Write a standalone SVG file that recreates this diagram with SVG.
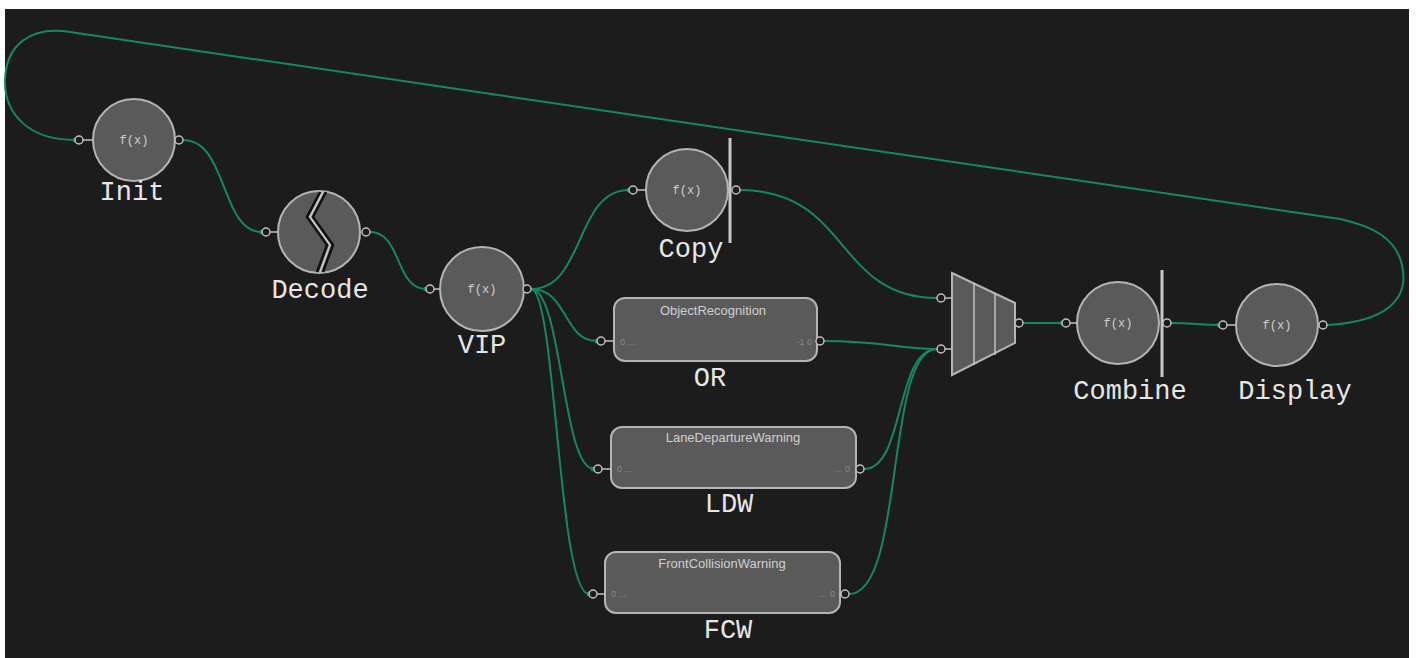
<svg xmlns="http://www.w3.org/2000/svg" width="1416" height="658" viewBox="0 0 1416 658">
<style>
.node{fill:#5a5a5a;stroke:#b4b4b4;stroke-width:2}
.port{fill:#1c1c1c;stroke:#c0c0c0;stroke-width:1.5}
.stub{stroke:#c0c0c0;stroke-width:1.5}
.bar{stroke:#c8c8c8;stroke-width:3}
.wire{fill:none;stroke:#17875e;stroke-width:2}
.lbl{font-family:"Liberation Mono","DejaVu Sans Mono",monospace;font-size:27px;fill:#e6e6e6;text-anchor:middle}
.fx{font-family:"Liberation Mono","DejaVu Sans Mono",monospace;font-size:12px;fill:#d0d0d0;text-anchor:middle}
.ttl{font-family:"Liberation Sans","DejaVu Sans",sans-serif;font-size:13px;fill:#cfcfcf;text-anchor:middle}
.pl{font-family:"Liberation Sans","DejaVu Sans",sans-serif;font-size:9px;fill:#8a8a8a}
.dot{fill:#17875e}
</style>
<rect x="0" y="0" width="1416" height="658" fill="#ffffff"/>
<rect x="5" y="9" width="1404" height="649" fill="#1c1c1c"/>

<g id="connectors">
<path class="wire" d="M1327,325 C1385,322 1410,300 1402,265 C1396,238 1372,226 1340,219 L70,32 C30,26 6,45 5,80 C4,115 30,140 75,140"/>
<path class="wire" d="M183,140 C228,140 220,232 262,232"/>
<path class="wire" d="M370,232 C402,232 395,289 426,289"/>
<path class="wire" d="M531,289 C585,289 575,190 629,190"/>
<path class="wire" d="M531,289 C568,289 563,341 597,341"/>
<path class="wire" d="M531,289 C562,289 562,469 594,469"/>
<path class="wire" d="M531,289 C556,289 558,594 589,594"/>
<path class="wire" d="M740,190 C850,190 835,298 937,298"/>
<path class="wire" d="M824,341 C885,341 895,349 937,349"/>
<path class="wire" d="M864,469 C905,469 895,349 937,349"/>
<path class="wire" d="M849,594 C905,594 885,349 937,349"/>
<path class="wire" d="M1023,323 L1062,323"/>
<path class="wire" d="M1171,323 C1195,323 1198,325 1220,325"/>
</g>

<g id="init">
<circle class="node" cx="134" cy="140" r="41"/>
<line class="stub" x1="83" y1="140" x2="93" y2="140"/>
<circle class="dot" cx="75" cy="140" r="2.5"/>
<circle class="port" cx="79" cy="140" r="4"/>
<circle class="port" cx="179" cy="140" r="4"/>
<text class="fx" x="134" y="144">f(x)</text>
<text class="lbl" x="132" y="200">Init</text>
</g>

<g id="decode">
<circle class="node" cx="319" cy="232" r="41"/>
<path d="M320,192 L307,217 L327,245 L317,272" fill="none" stroke="#111" stroke-width="2.5"/>
<path d="M326,192 L313,217 L333,245 L323,272" fill="none" stroke="#111" stroke-width="2.5"/>
<path d="M323,192 L310,217 L330,245 L320,272" fill="none" stroke="#c8c8c8" stroke-width="2"/>
<line class="stub" x1="270" y1="232" x2="278" y2="232"/>
<circle class="dot" cx="262" cy="232" r="2.5"/>
<circle class="port" cx="266" cy="232" r="4"/>
<circle class="port" cx="366" cy="232" r="4"/>
<text class="lbl" x="320" y="298">Decode</text>
</g>

<g id="vip">
<circle class="node" cx="482" cy="289" r="42"/>
<line class="stub" x1="434" y1="289" x2="440" y2="289"/>
<circle class="dot" cx="426" cy="289" r="2.5"/>
<circle class="port" cx="430" cy="289" r="4"/>
<circle class="port" cx="527" cy="289" r="4"/>
<text class="fx" x="482" y="293">f(x)</text>
<text class="lbl" x="482" y="353">VIP</text>
</g>

<g id="copy">
<circle class="node" cx="687" cy="190" r="41"/>
<line class="bar" x1="730" y1="138" x2="730" y2="243"/>
<line class="stub" x1="637" y1="190" x2="646" y2="190"/>
<circle class="dot" cx="629" cy="190" r="2.5"/>
<circle class="port" cx="633" cy="190" r="4"/>
<circle class="port" cx="736" cy="190" r="4"/>
<text class="fx" x="687" y="194">f(x)</text>
<text class="lbl" x="691" y="257">Copy</text>
</g>

<g id="or">
<rect class="node" x="614" y="298" width="203" height="63" rx="11"/>
<text class="ttl" x="713" y="315">ObjectRecognition</text>
<text class="pl" x="620" y="345">0 ...</text>
<text class="pl" x="812" y="345" text-anchor="end">-1 0</text>
<line class="stub" x1="605" y1="341" x2="614" y2="341"/>
<circle class="dot" cx="597" cy="341" r="2.5"/>
<circle class="port" cx="601" cy="341" r="4"/>
<circle class="port" cx="820" cy="341" r="4"/>
<text class="lbl" x="710" y="386">OR</text>
</g>

<g id="ldw">
<rect class="node" x="611" y="427" width="245" height="61" rx="11"/>
<text class="ttl" x="733" y="442">LaneDepartureWarning</text>
<text class="pl" x="617" y="472">0 ...</text>
<text class="pl" x="850" y="472" text-anchor="end">... 0</text>
<line class="stub" x1="602" y1="469" x2="611" y2="469"/>
<circle class="dot" cx="593" cy="469" r="2.5"/>
<circle class="port" cx="598" cy="469" r="4"/>
<circle class="port" cx="860" cy="469" r="4"/>
<text class="lbl" x="729" y="512">LDW</text>
</g>

<g id="fcw">
<rect class="node" x="605" y="552" width="235" height="61" rx="11"/>
<text class="ttl" x="722" y="568">FrontCollisionWarning</text>
<text class="pl" x="611" y="597">0 ...</text>
<text class="pl" x="835" y="597" text-anchor="end">... 0</text>
<line class="stub" x1="597" y1="594" x2="605" y2="594"/>
<circle class="dot" cx="589" cy="594" r="2.5"/>
<circle class="port" cx="593" cy="594" r="4"/>
<circle class="port" cx="845" cy="594" r="4"/>
<text class="lbl" x="728" y="638">FCW</text>
</g>

<g id="mux">
<polygon class="node" points="952,273 1015,303 1015,343 952,375"/>
<line class="stub" x1="974" y1="283" x2="974" y2="365"/>
<line class="stub" x1="995" y1="293" x2="995" y2="355"/>
<line class="stub" x1="945" y1="298" x2="952" y2="298"/>
<line class="stub" x1="945" y1="349" x2="952" y2="349"/>
<circle class="port" cx="941" cy="298" r="4"/>
<circle class="port" cx="941" cy="349" r="4"/>
<circle class="port" cx="1019" cy="323" r="4"/>
</g>

<g id="combine">
<circle class="node" cx="1118" cy="323" r="41"/>
<line class="bar" x1="1162" y1="270" x2="1162" y2="377"/>
<line class="stub" x1="1070" y1="323" x2="1077" y2="323"/>
<circle class="dot" cx="1062" cy="323" r="2.5"/>
<circle class="port" cx="1066" cy="323" r="4"/>
<circle class="port" cx="1167" cy="323" r="4"/>
<text class="fx" x="1118" y="327">f(x)</text>
<text class="lbl" x="1130" y="399">Combine</text>
</g>

<g id="display">
<circle class="node" cx="1277" cy="325" r="41"/>
<line class="stub" x1="1227" y1="325" x2="1236" y2="325"/>
<circle class="dot" cx="1219" cy="325" r="2.5"/>
<circle class="port" cx="1223" cy="325" r="4"/>
<circle class="port" cx="1323" cy="325" r="4"/>
<text class="fx" x="1277" y="329">f(x)</text>
<text class="lbl" x="1295" y="399">Display</text>
</g>
</svg>
